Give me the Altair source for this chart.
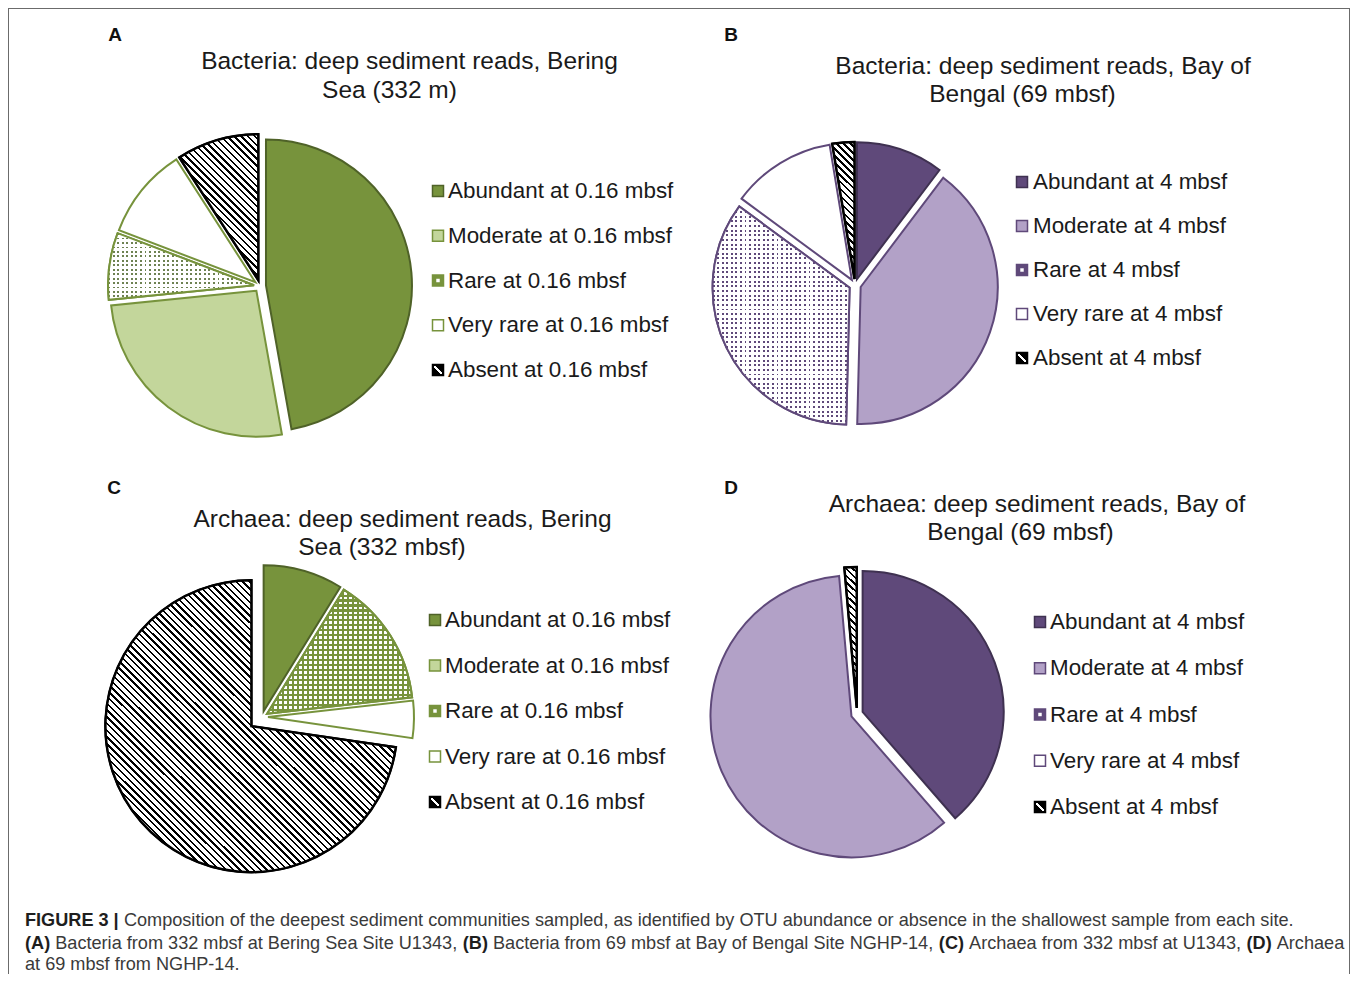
import math
import altair as alt
import pandas as pd

# ---------------- data ----------------
CATEGORIES = ["Abundant", "Moderate", "Rare", "Very rare", "Absent"]
VALUES_A = [47.2, 26.2, 7.4, 10.1, 9.1]
VALUES_B = [10.3, 40.1, 34.7, 12.3, 2.6]
VALUES_C = [8.8, 0.0, 14.4, 4.1, 72.7]
VALUES_D = [38.6, 60.0, 0.0, 0.0, 1.4]
DEPTH_BERING = "0.16 mbsf"
DEPTH_BENGAL = "4 mbsf"
TITLE_A = ["Bacteria: deep sediment reads, Bering", "Sea (332 m)"]
TITLE_B = ["Bacteria: deep sediment reads, Bay of", "Bengal (69 mbsf)"]
TITLE_C = ["Archaea: deep sediment reads, Bering", "Sea (332 mbsf)"]
TITLE_D = ["Archaea: deep sediment reads, Bay of", "Bengal (69 mbsf)"]
PANEL_LETTERS = ["A", "B", "C", "D"]
CAPTION_LINES = [
    [("FIGURE 3 |", True),
     (" Composition of the deepest sediment communities sampled, as identified by OTU abundance or absence in the shallowest sample from each site.", False)],
    [("(A)", True), (" Bacteria from 332 mbsf at Bering Sea Site U1343, ", False),
     ("(B)", True), (" Bacteria from 69 mbsf at Bay of Bengal Site NGHP-14, ", False),
     ("(C)", True), (" Archaea from 332 mbsf at U1343, ", False),
     ("(D)", True), (" Archaea", False)],
    [("at 69 mbsf from NGHP-14.", False)],
]

# ---------------- style ----------------
W, H = 1342, 966
FONT = "Liberation Sans"
TEXT = "#1a1a1a"
BORDER = "#6b6b6b"
CLEAR = "rgba(255,255,255,0)"
GREEN = {"fill": ["#77933C", "#C3D69B", "#FFFFFF", "#FFFFFF", "#FFFFFF"],
         "stroke": ["#4F6228", "#77933C", "#77933C", "#77933C", "#000000"],
         "icon": ["#77933C", "#C3D69B", "#77933C", "#FFFFFF", "#000000"],
         "dot": "#6E8252"}
PURPLE = {"fill": ["#5F497A", "#B2A1C7", "#FFFFFF", "#FFFFFF", "#FFFFFF"],
          "stroke": ["#3F3151", "#5F497A", "#5F497A", "#5F497A", "#000000"],
          "icon": ["#5F497A", "#B2A1C7", "#5F497A", "#FFFFFF", "#000000"],
          "dot": "#5F497A"}

PANELS = [
    dict(values=VALUES_A, depth=DEPTH_BERING, pal=GREEN, title=TITLE_A, letter=PANEL_LETTERS[0],
         center=(252, 278), r=146, explode="6", rare="dots", rare_box=(146, 68), absent_box=(79, 146),
         title_pos=[(401.5, 54), (381.5, 83)], letter_pos=(107, 27),
         legend=dict(icon_x=430, text_x=440, y0=183, y1=362)),
    dict(values=VALUES_B, depth=DEPTH_BENGAL, pal=PURPLE, title=TITLE_B, letter=PANEL_LETTERS[1],
         center=(847, 277), r=137, explode="6", rare="dots", rare_box=(137, 218), absent_box=(22, 137),
         title_pos=[(1035, 59), (1014.5, 87)], letter_pos=(723, 27),
         legend=dict(icon_x=1014, text_x=1025, y0=174, y1=350)),
    dict(values=VALUES_C, depth=DEPTH_BERING, pal=GREEN, title=TITLE_C, letter=PANEL_LETTERS[2],
         center=(254, 709), r=146, explode="datum.cat === 'Absent' ? 14 : 6", rare="cross",
         rare_box=(145, 124), absent_box=(290, 292),
         title_pos=[(394.5, 512), (374, 540)], letter_pos=(106, 480),
         legend=dict(icon_x=427, text_x=437, y0=612, y1=794)),
    dict(values=VALUES_D, depth=DEPTH_BENGAL, pal=PURPLE, title=TITLE_D, letter=PANEL_LETTERS[3],
         center=(849, 706), r=141, explode="6", rare="dots", rare_box=(20, 20), absent_box=(12, 141),
         title_pos=[(1029, 497), (1012.5, 525)], letter_pos=(723, 480),
         legend=dict(icon_x=1032, text_x=1042, y0=614, y1=799)),
]


# ---------------- pattern helpers (gradient stripes) ----------------
def stripe_grad(c_on, c_off, n, duty, x1, y1, x2, y2):
    stops = []
    for k in range(n):
        a = round(k / n, 6)
        b = round((k + duty) / n, 6)
        e = round((k + 1) / n, 6)
        stops += [{"offset": a, "color": c_on}, {"offset": b, "color": c_on},
                  {"offset": b, "color": c_off}, {"offset": e, "color": c_off}]
    return {"gradient": "linear", "x1": x1, "y1": y1, "x2": x2, "y2": y2, "stops": stops}


def vstripes(c_on, c_off, w, period, duty):
    return stripe_grad(c_on, c_off, max(1, round(w / period)), duty, 0, 0, 1, 0)


def hstripes(c_on, c_off, h, period, duty):
    return stripe_grad(c_on, c_off, max(1, round(h / period)), duty, 0, 0, 0, 1)


def hatch(w, h, period, duty):
    t = (w + h) / (w * w + h * h)
    n = max(1, round((w + h) / (math.sqrt(2) * period)))
    return stripe_grad("#000000", "#FFFFFF", n, duty, 0, 1, t * w, 1 - t * h)


# ---------------- pie layers ----------------
def pie_source(p):
    df = pd.DataFrame({"cat": CATEGORIES, "value": p["values"], "order": list(range(len(CATEGORIES)))})
    return (alt.Chart(df)
            .transform_filter("datum.value > 0")
            .transform_window(end="sum(value)", sort=[alt.SortField("order")], frame=[None, 0])
            .transform_calculate(start="datum.end - datum.value")
            .transform_calculate(mid="(datum.start + datum.end) * PI / 100")
            .transform_calculate(dist=p["explode"])
            .transform_calculate(ex="datum.dist * sin(datum.mid)", ey="-datum.dist * cos(datum.mid)"))


def pie_enc(p):
    cx, cy = p["center"]
    return dict(
        theta=alt.Theta("start:Q", stack=None, scale=alt.Scale(domain=[0, 100], range=[0, 2 * math.pi])),
        theta2=alt.Theta2("end:Q"),
        x=alt.X("ex:Q", scale=alt.Scale(domain=[-cx, W - cx], range=[0, W]), axis=None),
        y=alt.Y("ey:Q", scale=alt.Scale(domain=[-cy, H - cy], range=[0, H]), axis=None),
    )


def pie_layers(p):
    src = pie_source(p)
    enc = pie_enc(p)
    pal = p["pal"]
    r = p["r"]
    layers = [
        src.mark_arc(radius=r, strokeWidth=2).encode(
            fill=alt.Fill("cat:N", scale=alt.Scale(domain=CATEGORIES, range=pal["fill"]), legend=None),
            stroke=alt.Stroke("cat:N", scale=alt.Scale(domain=CATEGORIES, range=pal["stroke"]), legend=None),
            **enc)
    ]
    rare = src.transform_filter("datum.cat === 'Rare'")
    rw, rh = p["rare_box"]
    if p["rare"] == "dots":
        layers.append(rare.mark_arc(radius=r, fill=vstripes(pal["dot"], "#FFFFFF", rw, 4.6, 0.42)).encode(**enc))
        layers.append(rare.mark_arc(radius=r, fill=hstripes(CLEAR, "#FFFFFF", rh, 4.6, 0.42),
                                    stroke=pal["stroke"][2], strokeWidth=2).encode(**enc))
    else:
        layers.append(rare.mark_arc(radius=r, fill=vstripes(pal["stroke"][2], CLEAR, rw, 5.0, 0.42)).encode(**enc))
        layers.append(rare.mark_arc(radius=r, fill=hstripes(pal["stroke"][2], CLEAR, rh, 5.0, 0.42),
                                    stroke=pal["stroke"][2], strokeWidth=2).encode(**enc))
    aw, ah = p["absent_box"]
    layers.append(src.transform_filter("datum.cat === 'Absent'")
                  .mark_arc(radius=r, fill=hatch(aw, ah, 4.8, 0.36), stroke="#000000", strokeWidth=2.5)
                  .encode(**enc))
    return layers


def legend_layers(p):
    lg = p["legend"]
    pal = p["pal"]
    df = pd.DataFrame({"cat": CATEGORIES, "label": [f"{c} at {p['depth']}" for c in CATEGORIES]})
    yenc = alt.Y("cat:N", scale=alt.Scale(type="point", domain=CATEGORIES, range=[lg["y0"], lg["y1"]], padding=0),
                 axis=None)
    base = alt.Chart(df)
    icons = base.mark_square(size=121, strokeWidth=1.5, opacity=1, filled=True).encode(
        x=alt.value(lg["icon_x"]), y=yenc,
        fill=alt.Fill("cat:N", scale=alt.Scale(domain=CATEGORIES, range=pal["icon"]), legend=None),
        stroke=alt.Stroke("cat:N", scale=alt.Scale(domain=CATEGORIES, range=pal["stroke"]), legend=None))
    rare_icon = base.transform_filter("datum.cat === 'Rare'").mark_square(
        size=12, opacity=1, filled=True, fill="#FFFFFF").encode(x=alt.value(lg["icon_x"]), y=yenc)
    absent_icon = base.transform_filter("datum.cat === 'Absent'").mark_square(
        size=64, opacity=1, filled=True,
        fill={"gradient": "linear", "x1": 0, "y1": 1, "x2": 1, "y2": 0,
              "stops": [{"offset": 0, "color": "#000000"}, {"offset": 0.4, "color": "#000000"},
                        {"offset": 0.4, "color": "#FFFFFF"}, {"offset": 0.6, "color": "#FFFFFF"},
                        {"offset": 0.6, "color": "#000000"}, {"offset": 1, "color": "#000000"}]}
    ).encode(x=alt.value(lg["icon_x"]), y=yenc)
    labels = base.mark_text(align="left", baseline="middle", font=FONT, fontSize=22.4, color=TEXT).encode(
        x=alt.value(lg["text_x"]), y=yenc, text="label:N")
    return [icons, rare_icon, absent_icon, labels]


def text_layer(s, x, y, size, weight="normal", align="center", baseline="middle", color=TEXT):
    return alt.Chart(pd.DataFrame({"t": [s]})).mark_text(
        align=align, baseline=baseline, font=FONT, fontSize=size, fontWeight=weight, color=color
    ).encode(x=alt.value(x), y=alt.value(y), text="t:N")


# ---------------- caption layout (Arial / Liberation Sans advance widths) ----------------
REG = {' ': 278, ',': 278, '-': 333, '.': 278, '(': 333, ')': 333, '|': 260, ':': 278,
       'A': 667, 'B': 667, 'C': 722, 'D': 722, 'E': 667, 'F': 611, 'G': 778, 'H': 722, 'I': 278,
       'J': 500, 'K': 667, 'L': 556, 'M': 833, 'N': 722, 'O': 778, 'P': 667, 'Q': 778, 'R': 722,
       'S': 667, 'T': 611, 'U': 722, 'V': 667, 'W': 944, 'X': 667, 'Y': 667, 'Z': 611,
       'a': 556, 'b': 556, 'c': 500, 'd': 556, 'e': 556, 'f': 278, 'g': 556, 'h': 556, 'i': 222,
       'j': 222, 'k': 500, 'l': 222, 'm': 833, 'n': 556, 'o': 556, 'p': 556, 'q': 556, 'r': 333,
       's': 500, 't': 278, 'u': 556, 'v': 500, 'w': 722, 'x': 500, 'y': 500, 'z': 500}
BOLD = {' ': 278, '(': 333, ')': 333, '|': 280, 'A': 722, 'B': 722, 'C': 722, 'D': 722,
        'E': 667, 'F': 611, 'G': 778, 'I': 278, 'R': 722, 'U': 722}


def em_width(s, bold):
    table = BOLD if bold else REG
    return sum(table.get(ch, REG.get(ch, 556)) for ch in s) / 1000.0


CAP_X0 = 17
CAP_LINE1_WIDTH = 1270
CAP_FS = CAP_LINE1_WIDTH / sum(em_width(s, b) for s, b in CAPTION_LINES[0])
CAP_BASELINES = [918, 941, 962]


def caption_layers():
    out = []
    for line, yb in zip(CAPTION_LINES, CAP_BASELINES):
        x = CAP_X0
        for seg, bold in line:
            lead = len(seg) - len(seg.lstrip(" "))
            xd = x + em_width(seg[:lead], bold) * CAP_FS
            out.append(text_layer(seg.strip(" "), xd, yb, CAP_FS, weight="bold" if bold else "normal",
                                  align="left", baseline="alphabetic",
                                  color="#1e1e1e" if bold else "#3a3a3a"))
            x += em_width(seg, bold) * CAP_FS
    return out


# ---------------- assemble ----------------
layers = []
one = pd.DataFrame({"k": [0]})
layers.append(alt.Chart(one).mark_rule(color=BORDER, strokeWidth=1).encode(
    x=alt.value(0.5), y=alt.value(0), y2=alt.value(H)))
layers.append(alt.Chart(one).mark_rule(color=BORDER, strokeWidth=1).encode(
    x=alt.value(0), x2=alt.value(W), y=alt.value(0.5)))
layers.append(alt.Chart(one).mark_rule(color=BORDER, strokeWidth=1).encode(
    x=alt.value(W - 0.5), y=alt.value(0), y2=alt.value(H)))

for p in PANELS:
    layers += pie_layers(p)
    layers += legend_layers(p)
    for line, (tx, ty) in zip(p["title"], p["title_pos"]):
        layers.append(text_layer(line, tx, ty, 24.5))
    lx, ly = p["letter_pos"]
    layers.append(text_layer(p["letter"], lx, ly, 19, weight="bold", color="#111111"))

layers += caption_layers()

chart = (alt.layer(*layers)
         .properties(width=W, height=H, padding=0, autosize=alt.AutoSizeParams(type="none"))
         .resolve_scale(x="independent", y="independent", fill="independent", stroke="independent")
         .configure_view(stroke=None))

chart.save("out.html", embed_options={"renderer": "svg", "actions": False})
